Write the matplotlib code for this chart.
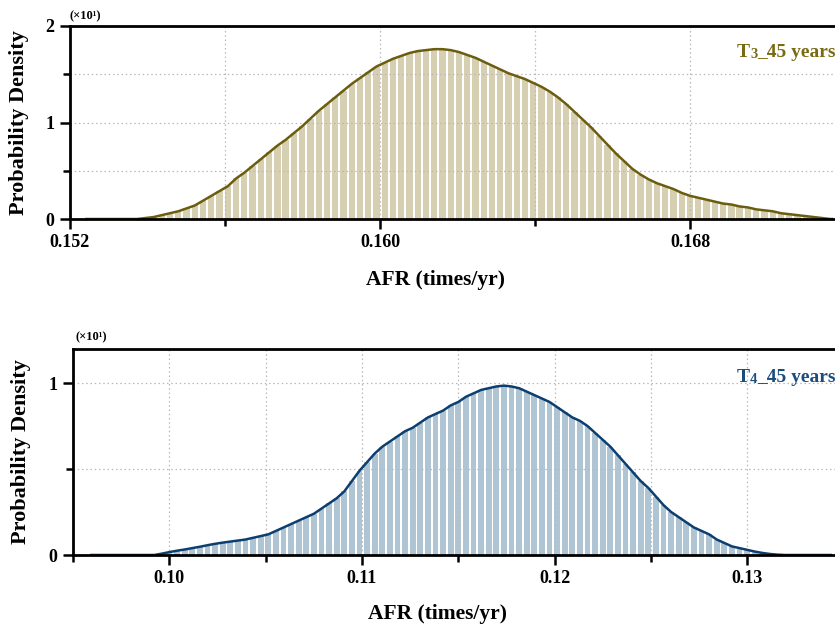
import numpy as np
import matplotlib
matplotlib.use("Agg")
import matplotlib.pyplot as plt
from matplotlib.ticker import MultipleLocator, FormatStrFormatter

plt.rcParams['font.family'] = ['Liberation Serif', 'DejaVu Serif']
plt.rcParams['font.weight'] = 'bold'

# ---------------- data (density in units of x10) ----------------
t3_start = 0.15373
t3_step = 0.000213
t3_density = [0.00, 0.01, 0.02, 0.04, 0.06, 0.08, 0.11, 0.14, 0.19, 0.24,
              0.29, 0.34, 0.42, 0.48, 0.55, 0.62, 0.69, 0.76, 0.82, 0.89,
              0.96, 1.04, 1.12, 1.19, 1.26, 1.33, 1.40, 1.46, 1.52, 1.58,
              1.62, 1.66, 1.69, 1.72, 1.74, 1.75, 1.76, 1.76, 1.75, 1.73,
              1.70, 1.67, 1.63, 1.59, 1.55, 1.51, 1.48, 1.45, 1.41, 1.37,
              1.32, 1.26, 1.19, 1.11, 1.03, 0.95, 0.86, 0.77, 0.68, 0.60,
              0.52, 0.46, 0.41, 0.37, 0.34, 0.31, 0.27, 0.24, 0.22, 0.20,
              0.18, 0.16, 0.15, 0.13, 0.12, 0.10, 0.09, 0.08, 0.06, 0.05,
              0.04, 0.03, 0.02, 0.01, 0.00]
t3_line_ends = [0.15239, 0.17170]

t4_start = 0.09922
t4_step = 0.0003946
t4_density = [0.000, 0.008, 0.017, 0.025, 0.032, 0.040, 0.048, 0.057, 0.065, 0.072,
              0.078, 0.084, 0.090, 0.10, 0.11, 0.12, 0.14, 0.16, 0.18, 0.20,
              0.22, 0.24, 0.27, 0.30, 0.33, 0.37, 0.43, 0.49, 0.54, 0.59,
              0.63, 0.66, 0.69, 0.72, 0.74, 0.77, 0.80, 0.82, 0.84, 0.87,
              0.89, 0.92, 0.94, 0.96, 0.97, 0.98, 0.985, 0.98, 0.97, 0.95,
              0.93, 0.91, 0.89, 0.86, 0.83, 0.80, 0.78, 0.75, 0.71, 0.67,
              0.63, 0.58, 0.53, 0.48, 0.43, 0.39, 0.34, 0.29, 0.25, 0.22,
              0.19, 0.16, 0.14, 0.12, 0.09, 0.07, 0.05, 0.04, 0.03, 0.02,
              0.012, 0.006, 0.002, 0.000]
t4_line_ends = [0.09588, 0.13440]

panels = [
    dict(start=t3_start, step=t3_step, dens=t3_density, ends=t3_line_ends,
         pos=[70/835, 1-219/633, 765/835, 193/633], xlim=(0.152, 0.17174), ylim=(0, 2),
         xmajor=0.008, xminor=0.004, xfmt='%.3f', ymajor=1, yminor=0.5,
         fill='#d6cfb2', line='#6b5d0e', tcol='#7a6a12', label=('T', '3', '_45 years'),
         ttext_y=1-57/633, sci_y=1-16/633, sci_x=70/835,
         xlab=(0.478, -0.264), ylab=(-0.054, 0.5)),
    dict(start=t4_start, step=t4_step, dens=t4_density, ends=t4_line_ends,
         pos=[73/835, 1-555/633, 762/835, 206/633], xlim=(0.095, 0.13456), ylim=(0, 1.198),
         xmajor=0.01, xminor=0.005, xfmt='%.2f', ymajor=1, yminor=0.5,
         fill='#b0c5d4', line='#0c3e70', tcol='#1b4c7e', label=('T', '4', '_45 years'),
         ttext_y=1-382/633, sci_y=1-337/633, sci_x=75/835,
         xlab=(0.479, -0.238), ylab=(-0.055, 0.5)),
]

fig = plt.figure(figsize=(8.35, 6.33), dpi=100)

for p in panels:
    ax = fig.add_axes(p['pos'])
    dens = np.array(p['dens'])
    x = p['start'] + p['step'] * np.arange(len(dens))
    ax.bar(x, dens, width=p['step'] * 0.76, color=p['fill'], edgecolor='none', zorder=1)
    lx = np.concatenate([[p['ends'][0]], x, [p['ends'][1]]])
    ly = np.concatenate([[0], dens, [0]])
    ax.plot(lx, ly, color=p['line'], lw=1.8, zorder=3, solid_capstyle='butt')
    ax.set_xlim(*p['xlim'])
    ax.set_ylim(*p['ylim'])
    ax.xaxis.set_major_locator(MultipleLocator(p['xmajor']))
    ax.xaxis.set_minor_locator(MultipleLocator(p['xminor']))
    ax.xaxis.set_major_formatter(FormatStrFormatter(p['xfmt']))
    ax.yaxis.set_major_locator(MultipleLocator(p['ymajor']))
    ax.yaxis.set_minor_locator(MultipleLocator(p['yminor']))
    ax.yaxis.set_major_formatter(FormatStrFormatter('%d'))
    ax.grid(True, which='both', linestyle=(0, (1.2, 2.2)), color='#b8b8b8', lw=0.9, zorder=2)
    ax.set_axisbelow(False)
    for s in ['top', 'bottom', 'left']:
        ax.spines[s].set_linewidth(2.0)
        ax.spines[s].set_color('black')
        ax.spines[s].set_zorder(6)
    ax.spines['right'].set_visible(False)
    ax.tick_params(which='major', direction='out', length=7, width=1.8, labelsize=13, pad=4)
    ax.tick_params(which='minor', direction='out', length=5, width=1.8)
    ax.tick_params(axis='y', which='both', right=False)
    ax.tick_params(axis='x', which='both', top=False)
    for lab in ax.get_xticklabels() + ax.get_yticklabels():
        lab.set_fontweight('bold')
    ax.set_xlabel('AFR (times/yr)', fontsize=15.5, fontweight='bold')
    ax.set_ylabel('Probability Density', fontsize=16, fontweight='bold')
    ax.xaxis.set_label_coords(*p['xlab'])
    ax.yaxis.set_label_coords(*p['ylab'])
    # scale note
    fig.text(p['sci_x'], p['sci_y'], '(×10¹)', fontsize=9, fontweight='bold',
             ha='left', va='center')
    # series label
    t1 = fig.text(737/835, p['ttext_y'], p['label'][0], fontsize=14, fontweight='bold',
                  color=p['tcol'], ha='left', va='baseline', zorder=7)
    t2 = ax.annotate(p['label'][1], xy=(1, 0), xycoords=t1, fontsize=10.5, fontweight='bold',
                     color=p['tcol'], ha='left', va='bottom')
    t3 = ax.annotate(p['label'][2], xy=(1, 0), xycoords=t2, fontsize=14, fontweight='bold',
                     color=p['tcol'], ha='left', va='bottom', annotation_clip=False)

fig.savefig('out.png', dpi=100)
